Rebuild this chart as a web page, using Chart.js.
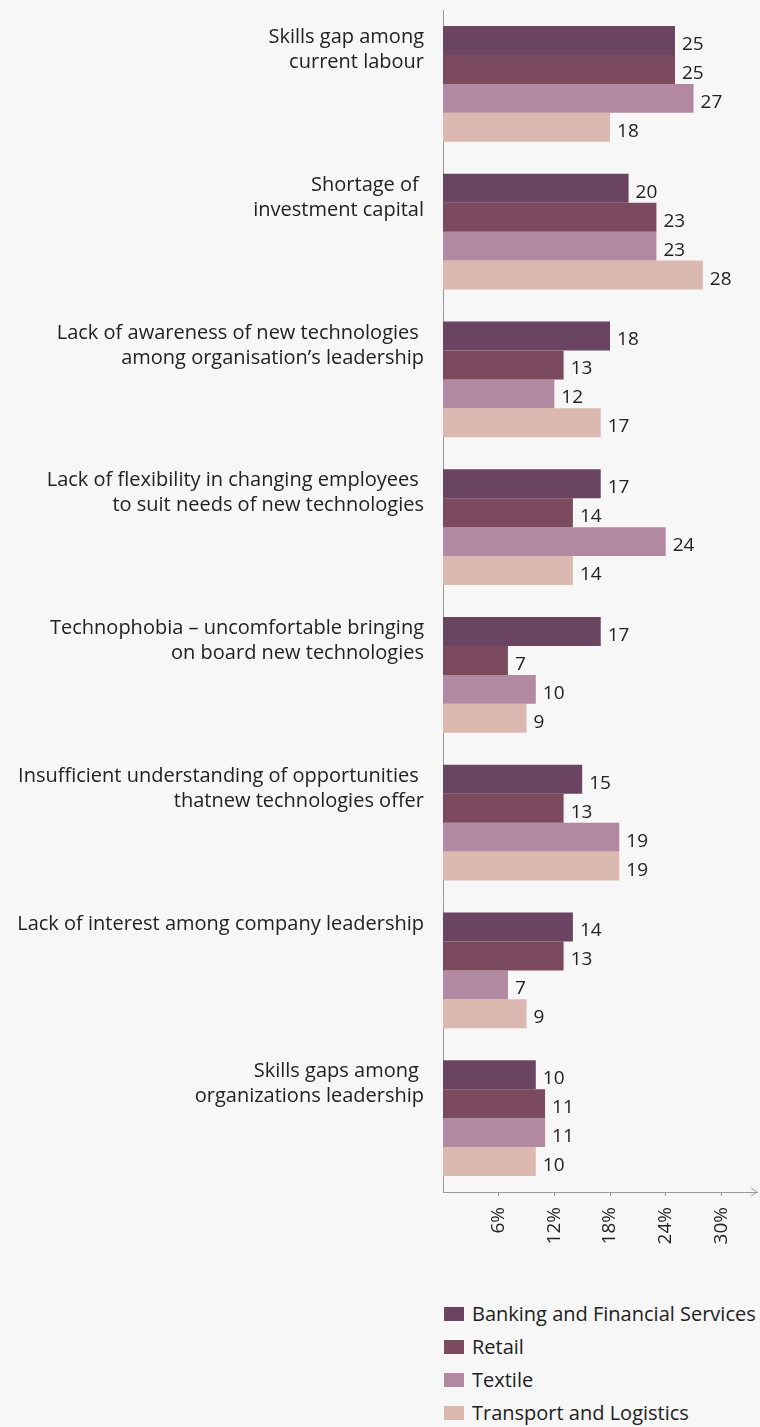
<!DOCTYPE html>
<html lang="en">
<head>
  <meta charset="UTF-8" />
  <title>Barriers to adopting new technologies</title>
  <script src="https://cdn.jsdelivr.net/npm/chart.js"></script>
  <style>
    body { margin: 0; background: #f7f7f7; font-family: 'Open Sans', sans-serif; color: #222; }
    #wrap { position: relative; width: 760px; height: 1292px; }
    #legend { margin: 5px 0 0 444px; }
    .item { display: flex; align-items: center; height: 33px; font-size: 20px; white-space: nowrap; }
    .box { width: 20px; height: 14px; margin-right: 8px; flex: none; }
  </style>
</head>
<body>
  <div id="wrap"><canvas id="chart"></canvas></div>
  <div id="legend"></div>

  <script>
    const categories = [
      ['Skills gap among', 'current labour'],
      ['Shortage of ', 'investment capital'],
      ['Lack of awareness of new technologies ', 'among organisation\u2019s leadership'],
      ['Lack of flexibility in changing employees ', 'to suit needs of new technologies'],
      ['Technophobia \u2013 uncomfortable bringing', 'on board new technologies'],
      ['Insufficient understanding of opportunities ', 'thatnew technologies offer'],
      ['Lack of interest among company leadership', ''],
      ['Skills gaps among ', 'organizations leadership']
    ];
    const seriesNames = ['Banking and Financial Services', 'Retail', 'Textile', 'Transport and Logistics'];
    const seriesColors = ['#6a4460', '#7c4a5f', '#b388a1', '#dcb9b0'];
    const banking   = [25, 20, 18, 17, 17, 15, 14, 10];
    const retail    = [25, 23, 13, 14, 7, 13, 13, 11];
    const textile   = [27, 23, 12, 24, 10, 19, 7, 11];
    const transport = [18, 28, 17, 14, 9, 19, 9, 10];
    const xTicks = [6, 12, 18, 24, 30];

    const FONT = "'Open Sans', sans-serif";
    const series = [banking, retail, textile, transport];

    // value labels at the end of each bar + arrow head on the x axis
    const extras = {
      id: 'extras',
      afterDatasetsDraw(chart) {
        const ctx = chart.ctx;
        ctx.save();
        ctx.fillStyle = '#222';
        ctx.font = '19px ' + FONT;
        ctx.textBaseline = 'middle';
        ctx.textAlign = 'left';
        chart.data.datasets.forEach((ds, i) => {
          chart.getDatasetMeta(i).data.forEach((bar, j) => {
            ctx.fillText(ds.data[j], bar.x + 7, bar.y + 4);
          });
        });
        const a = chart.chartArea;
        ctx.strokeStyle = '#999';
        ctx.lineWidth = 1;
        ctx.beginPath();
        ctx.moveTo(a.right - 6, a.bottom - 4);
        ctx.lineTo(a.right, a.bottom);
        ctx.lineTo(a.right - 6, a.bottom + 4);
        ctx.stroke();
        ctx.restore();
      }
    };

    new Chart(document.getElementById('chart'), {
      type: 'bar',
      data: {
        labels: categories,
        datasets: series.map((d, i) => ({
          label: seriesNames[i],
          data: d,
          backgroundColor: seriesColors[i],
          barPercentage: 1,
          categoryPercentage: 0.785
        }))
      },
      options: {
        indexAxis: 'y',
        responsive: true,
        maintainAspectRatio: false,
        animation: false,
        layout: { padding: { top: 10, right: 3, left: 0, bottom: 0 } },
        plugins: { legend: { display: false }, tooltip: { enabled: false } },
        scales: {
          y: {
            grid: { display: false, drawTicks: false },
            border: { color: '#999' },
            ticks: {
              color: '#222', autoSkip: false, padding: 19, labelOffset: -34,
              font: { family: FONT, size: 20, lineHeight: 1.25 }
            },
            afterFit: s => { s.width = 443; s.paddingTop = 0; s.paddingBottom = 0; }
          },
          x: {
            min: 0, max: 33.84,
            grid: { drawOnChartArea: false, tickLength: 4, color: '#999' },
            border: { color: '#999' },
            ticks: {
              color: '#222', padding: 11, minRotation: 90, maxRotation: 90,
              font: { family: FONT, size: 19 },
              callback: v => v + '%'
            },
            afterBuildTicks: s => { s.ticks = xTicks.map(v => ({ value: v })); },
            afterFit: s => { s.height = 100; }
          }
        }
      },
      plugins: [extras]
    });

    const legend = document.getElementById('legend');
    seriesNames.forEach((n, i) => {
      const it = document.createElement('div');
      it.className = 'item';
      it.innerHTML = '<span class="box" style="background:' + seriesColors[i] + '"></span><span></span>';
      it.lastChild.textContent = n;
      legend.appendChild(it);
    });
  </script>
</body>
</html>
